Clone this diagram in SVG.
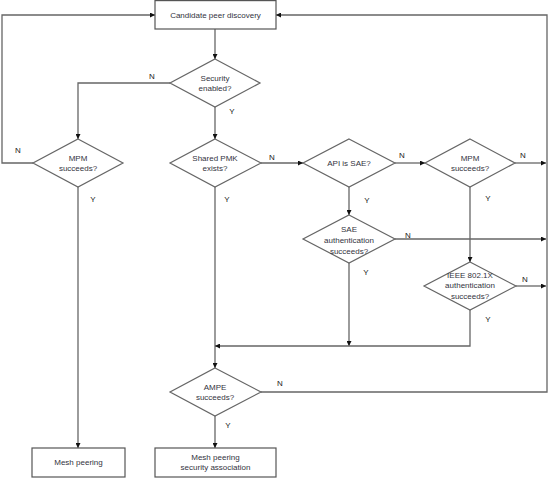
<svg xmlns="http://www.w3.org/2000/svg" width="548" height="478" viewBox="0 0 548 478">
<style>
.box{fill:#fff;stroke:#555;stroke-width:1.2}
.dia{fill:#fff;stroke:#666;stroke-width:1.2}
.t{font-family:"Liberation Sans",Arial,sans-serif;font-size:8px;fill:#333340;text-anchor:middle}
.l{font-family:"Liberation Sans",Arial,sans-serif;font-size:8px;fill:#222;text-anchor:middle}
.c{fill:none;stroke:#666;stroke-width:1.3}
</style>
<defs>
<marker id="a" viewBox="0 0 10 10" refX="10" refY="5" markerWidth="6" markerHeight="5" markerUnits="userSpaceOnUse" orient="auto">
<path d="M0,0 L10,5 L0,10 z" fill="#111"/>
</marker>
</defs>
<rect width="548" height="478" fill="#fff"/>
<g id="connectors">
<path class="c" d="M215,29 V59" marker-end="url(#a)"/>
<path class="c" d="M170,83 H78 V139" marker-end="url(#a)"/>
<path class="c" d="M215,107 V139" marker-end="url(#a)"/>
<path class="c" d="M33,163 H2 V15 H155" marker-end="url(#a)"/>
<path class="c" d="M78,187 V448" marker-end="url(#a)"/>
<path class="c" d="M261,163 H303" marker-end="url(#a)"/>
<path class="c" d="M215,187 V368" marker-end="url(#a)"/>
<path class="c" d="M395,163 H425" marker-end="url(#a)"/>
<path class="c" d="M349,187 V215" marker-end="url(#a)"/>
<path class="c" d="M515,163 H546" marker-end="url(#a)"/>
<path class="c" d="M470,187 V262" marker-end="url(#a)"/>
<path class="c" d="M395,239 H546" marker-end="url(#a)"/>
<path class="c" d="M349,263 V346" marker-end="url(#a)"/>
<path class="c" d="M516,286 H546" marker-end="url(#a)"/>
<path class="c" d="M470,310 V346 H215" marker-end="url(#a)"/>
<path class="c" d="M261,392 H547 V15 H276" marker-end="url(#a)"/>
<path class="c" d="M215,416 V448" marker-end="url(#a)"/>
<text class="l" x="152" y="79">N</text>
<text class="l" x="232" y="114">Y</text>
<text class="l" x="18" y="153">N</text>
<text class="l" x="93" y="202">Y</text>
<text class="l" x="272" y="160">N</text>
<text class="l" x="227" y="202">Y</text>
<text class="l" x="402" y="158">N</text>
<text class="l" x="367" y="203">Y</text>
<text class="l" x="523" y="158">N</text>
<text class="l" x="488" y="201">Y</text>
<text class="l" x="408" y="238">N</text>
<text class="l" x="366" y="275">Y</text>
<text class="l" x="525" y="282">N</text>
<text class="l" x="488" y="322">Y</text>
<text class="l" x="280" y="386">N</text>
<text class="l" x="228" y="428">Y</text>
</g>
<g id="discovery">
<rect class="box" x="155" y="0.6" width="121" height="28.4"/>
<text class="t" x="215.5" y="17.5">Candidate peer discovery</text>
</g>
<g id="security">
<polygon class="dia" points="215,59 260,83 215,107 170,83"/>
<text class="t" x="215" y="81">Security</text>
<text class="t" x="215" y="91">enabled?</text>
</g>
<g id="mpm1">
<polygon class="dia" points="78,139 123,163 78,187 33,163"/>
<text class="t" x="78" y="161">MPM</text>
<text class="t" x="78" y="171">succeeds?</text>
</g>
<g id="pmk">
<polygon class="dia" points="215,139 261,163 215,187 170,163"/>
<text class="t" x="215" y="161">Shared PMK</text>
<text class="t" x="215" y="171">exists?</text>
</g>
<g id="api">
<polygon class="dia" points="349,139 395,163 349,187 303,163"/>
<text class="t" x="349" y="166">API is SAE?</text>
</g>
<g id="mpm2">
<polygon class="dia" points="470,139 515,163 470,187 425,163"/>
<text class="t" x="470" y="161">MPM</text>
<text class="t" x="470" y="171">succeeds?</text>
</g>
<g id="sae">
<polygon class="dia" points="349,215 395,239 349,263 303,239"/>
<text class="t" x="349" y="232">SAE</text>
<text class="t" x="349" y="243">authentication</text>
<text class="t" x="349" y="254">succeeds?</text>
</g>
<g id="ieee">
<polygon class="dia" points="470,262 516,286 470,310 424,286"/>
<text class="t" x="470" y="278">IEEE 802.1X</text>
<text class="t" x="470" y="288">authentication</text>
<text class="t" x="470" y="299">succeeds?</text>
</g>
<g id="ampe">
<polygon class="dia" points="215,368 261,392 215,416 170,392"/>
<text class="t" x="215" y="390">AMPE</text>
<text class="t" x="215" y="400">succeeds?</text>
</g>
<g id="mesh">
<rect class="box" x="32" y="448" width="93" height="29"/>
<text class="t" x="78.5" y="465">Mesh peering</text>
</g>
<g id="msa">
<rect class="box" x="155" y="448" width="121" height="29"/>
<text class="t" x="215.5" y="460">Mesh peering</text>
<text class="t" x="215.5" y="470">security association</text>
</g>
</svg>
